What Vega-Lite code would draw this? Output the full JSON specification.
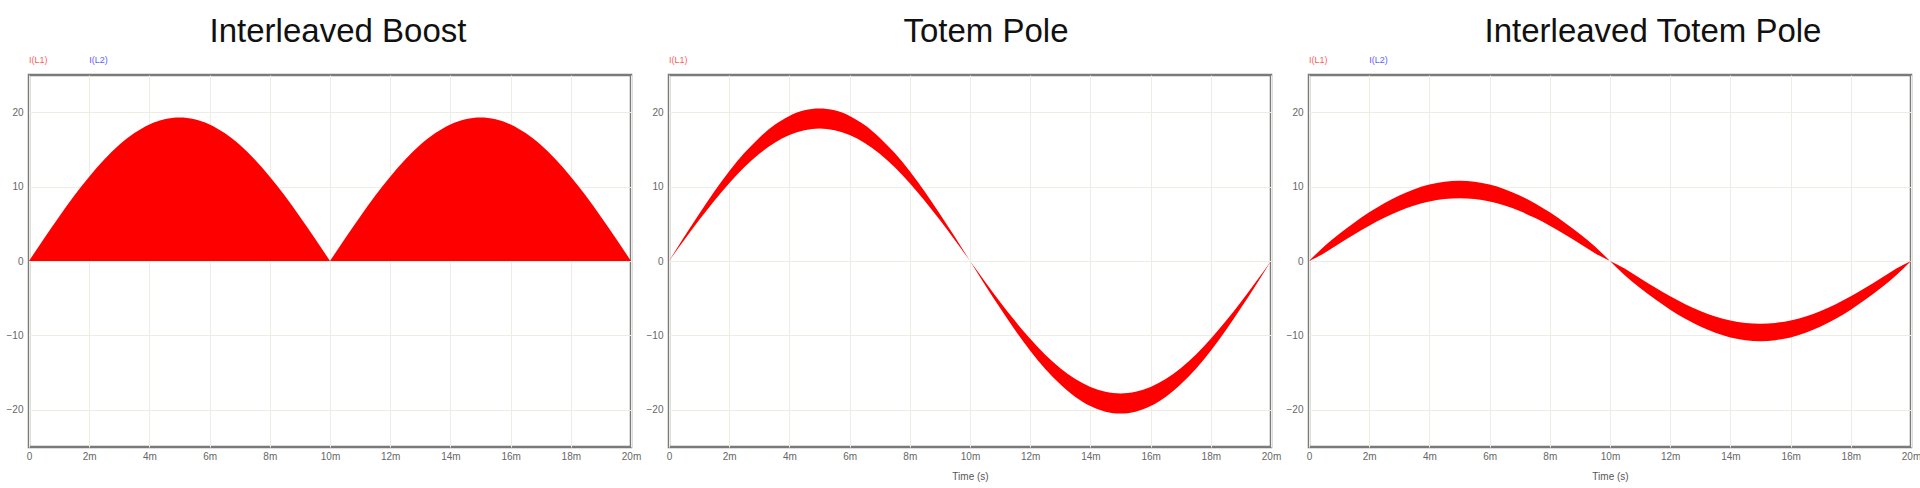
{
  "$schema": "https://vega.github.io/schema/vega-lite/v6.json",
  "background": "white",
  "padding": {"left": 3, "top": 14, "right": 0, "bottom": 0},
  "datasets": {
    "boost": [
      {"t": 0, "i": 0, "hump": 1}, {"t": 0.5, "i": 3.02, "hump": 1}, {"t": 1, "i": 5.96, "hump": 1}, {"t": 1.5, "i": 8.76, "hump": 1}, {"t": 2, "i": 11.34, "hump": 1}, {"t": 2.5, "i": 13.65, "hump": 1}, {"t": 3, "i": 15.61, "hump": 1}, {"t": 3.5, "i": 17.2, "hump": 1}, {"t": 4, "i": 18.36, "hump": 1}, {"t": 4.5, "i": 19.06, "hump": 1}, {"t": 5, "i": 19.3, "hump": 1}, {"t": 5.5, "i": 19.06, "hump": 1}, {"t": 6, "i": 18.36, "hump": 1}, {"t": 6.5, "i": 17.2, "hump": 1}, {"t": 7, "i": 15.61, "hump": 1}, {"t": 7.5, "i": 13.65, "hump": 1}, {"t": 8, "i": 11.34, "hump": 1}, {"t": 8.5, "i": 8.76, "hump": 1}, {"t": 9, "i": 5.96, "hump": 1}, {"t": 9.5, "i": 3.02, "hump": 1}, {"t": 10, "i": 0, "hump": 1},
      {"t": 10, "i": 0, "hump": 2}, {"t": 10.5, "i": 3.02, "hump": 2}, {"t": 11, "i": 5.96, "hump": 2}, {"t": 11.5, "i": 8.76, "hump": 2}, {"t": 12, "i": 11.34, "hump": 2}, {"t": 12.5, "i": 13.65, "hump": 2}, {"t": 13, "i": 15.61, "hump": 2}, {"t": 13.5, "i": 17.2, "hump": 2}, {"t": 14, "i": 18.36, "hump": 2}, {"t": 14.5, "i": 19.06, "hump": 2}, {"t": 15, "i": 19.3, "hump": 2}, {"t": 15.5, "i": 19.06, "hump": 2}, {"t": 16, "i": 18.36, "hump": 2}, {"t": 16.5, "i": 17.2, "hump": 2}, {"t": 17, "i": 15.61, "hump": 2}, {"t": 17.5, "i": 13.65, "hump": 2}, {"t": 18, "i": 11.34, "hump": 2}, {"t": 18.5, "i": 8.76, "hump": 2}, {"t": 19, "i": 5.96, "hump": 2}, {"t": 19.5, "i": 3.02, "hump": 2}, {"t": 20, "i": 0, "hump": 2}
    ],
    "totem": [
      {"t": 0, "hi": 0, "lo": 0}, {"t": 0.5, "hi": 3.21, "lo": 2.78}, {"t": 1, "hi": 6.33, "lo": 5.5}, {"t": 1.5, "hi": 9.31, "lo": 8.08}, {"t": 2, "hi": 12.05, "lo": 10.46}, {"t": 2.5, "hi": 14.5, "lo": 12.59}, {"t": 3, "hi": 16.58, "lo": 14.4}, {"t": 3.5, "hi": 18.27, "lo": 15.86}, {"t": 4, "hi": 19.5, "lo": 16.93}, {"t": 4.5, "hi": 20.25, "lo": 17.58}, {"t": 5, "hi": 20.5, "lo": 17.8}, {"t": 5.5, "hi": 20.25, "lo": 17.58}, {"t": 6, "hi": 19.5, "lo": 16.93}, {"t": 6.5, "hi": 18.27, "lo": 15.86}, {"t": 7, "hi": 16.58, "lo": 14.4}, {"t": 7.5, "hi": 14.5, "lo": 12.59}, {"t": 8, "hi": 12.05, "lo": 10.46}, {"t": 8.5, "hi": 9.31, "lo": 8.08}, {"t": 9, "hi": 6.33, "lo": 5.5}, {"t": 9.5, "hi": 3.21, "lo": 2.78}, {"t": 10, "hi": 0, "lo": 0},
      {"t": 10.5, "hi": -3.21, "lo": -2.78}, {"t": 11, "hi": -6.33, "lo": -5.5}, {"t": 11.5, "hi": -9.31, "lo": -8.08}, {"t": 12, "hi": -12.05, "lo": -10.46}, {"t": 12.5, "hi": -14.5, "lo": -12.59}, {"t": 13, "hi": -16.58, "lo": -14.4}, {"t": 13.5, "hi": -18.27, "lo": -15.86}, {"t": 14, "hi": -19.5, "lo": -16.93}, {"t": 14.5, "hi": -20.25, "lo": -17.58}, {"t": 15, "hi": -20.5, "lo": -17.8}, {"t": 15.5, "hi": -20.25, "lo": -17.58}, {"t": 16, "hi": -19.5, "lo": -16.93}, {"t": 16.5, "hi": -18.27, "lo": -15.86}, {"t": 17, "hi": -16.58, "lo": -14.4}, {"t": 17.5, "hi": -14.5, "lo": -12.59}, {"t": 18, "hi": -12.05, "lo": -10.46}, {"t": 18.5, "hi": -9.31, "lo": -8.08}, {"t": 19, "hi": -6.33, "lo": -5.5}, {"t": 19.5, "hi": -3.21, "lo": -2.78}, {"t": 20, "hi": 0, "lo": 0}
    ],
    "itp": [
      {"t": 0, "hi": 0, "lo": 0}, {"t": 0.5, "hi": 1.96, "lo": 1.04}, {"t": 1, "hi": 3.62, "lo": 2.32}, {"t": 1.5, "hi": 5.15, "lo": 3.57}, {"t": 2, "hi": 6.54, "lo": 4.75}, {"t": 2.5, "hi": 7.77, "lo": 5.8}, {"t": 3, "hi": 8.82, "lo": 6.71}, {"t": 3.5, "hi": 9.66, "lo": 7.45}, {"t": 4, "hi": 10.27, "lo": 7.99}, {"t": 4.5, "hi": 10.64, "lo": 8.32}, {"t": 5, "hi": 10.77, "lo": 8.43}, {"t": 5.5, "hi": 10.64, "lo": 8.32}, {"t": 6, "hi": 10.27, "lo": 7.99}, {"t": 6.5, "hi": 9.66, "lo": 7.45}, {"t": 7, "hi": 8.82, "lo": 6.71}, {"t": 7.5, "hi": 7.77, "lo": 5.8}, {"t": 8, "hi": 6.54, "lo": 4.75}, {"t": 8.5, "hi": 5.15, "lo": 3.57}, {"t": 9, "hi": 3.62, "lo": 2.32}, {"t": 9.5, "hi": 1.96, "lo": 1.04}, {"t": 10, "hi": 0, "lo": 0},
      {"t": 10.5, "hi": -1.96, "lo": -1.04}, {"t": 11, "hi": -3.62, "lo": -2.32}, {"t": 11.5, "hi": -5.15, "lo": -3.57}, {"t": 12, "hi": -6.54, "lo": -4.75}, {"t": 12.5, "hi": -7.77, "lo": -5.8}, {"t": 13, "hi": -8.82, "lo": -6.71}, {"t": 13.5, "hi": -9.66, "lo": -7.45}, {"t": 14, "hi": -10.27, "lo": -7.99}, {"t": 14.5, "hi": -10.64, "lo": -8.32}, {"t": 15, "hi": -10.77, "lo": -8.43}, {"t": 15.5, "hi": -10.64, "lo": -8.32}, {"t": 16, "hi": -10.27, "lo": -7.99}, {"t": 16.5, "hi": -9.66, "lo": -7.45}, {"t": 17, "hi": -8.82, "lo": -6.71}, {"t": 17.5, "hi": -7.77, "lo": -5.8}, {"t": 18, "hi": -6.54, "lo": -4.75}, {"t": 18.5, "hi": -5.15, "lo": -3.57}, {"t": 19, "hi": -3.62, "lo": -2.32}, {"t": 19.5, "hi": -1.96, "lo": -1.04}, {"t": 20, "hi": 0, "lo": 0}
    ],
    "legend2": [{"label": "I(L1)", "t": 0}, {"label": "I(L2)", "t": 2}],
    "legend1": [{"label": "I(L1)", "t": 0}]
  },
  "bounds": "flush",
  "spacing": 38,
  "hconcat": [
    {
      "width": 602, "height": 372,
      "title": {"text": "Interleaved Boost", "dx": 8},
      "layer": [
        {
          "data": {"name": "boost"},
          "mark": {"type": "area", "color": "#ff0000", "interpolate": "monotone", "opacity": 1},
          "encoding": {
            "x": {"field": "t", "type": "quantitative", "scale": {"domain": [0, 20], "nice": false},
                  "axis": {"values": [0, 2, 4, 6, 8, 10, 12, 14, 16, 18, 20], "labelExpr": "datum.value == 0 ? '0' : datum.value + 'm'", "title": null}},
            "y": {"field": "i", "type": "quantitative", "stack": null, "scale": {"domain": [-25, 25], "nice": false},
                  "axis": {"values": [-20, -10, 0, 10, 20], "title": null}},
            "detail": {"field": "hump"}
          }
        },
        {
          "data": {"name": "legend2"},
          "mark": {"type": "text", "align": "left", "baseline": "middle", "fontSize": 9, "font": "Liberation Sans"},
          "encoding": {
            "x": {"field": "t", "type": "quantitative"},
            "y": {"datum": 27},
            "text": {"field": "label"},
            "color": {"field": "label", "type": "nominal", "scale": {"domain": ["I(L1)", "I(L2)"], "range": ["#ff5c5c", "#6060ff"]}, "legend": null}
          }
        }
      ]
    },
    {
      "width": 602, "height": 372,
      "title": {"text": "Totem Pole", "dx": 16},
      "layer": [
        {
          "data": {"name": "totem"},
          "mark": {"type": "area", "color": "#ff0000", "interpolate": "monotone", "opacity": 1},
          "encoding": {
            "x": {"field": "t", "type": "quantitative", "scale": {"domain": [0, 20], "nice": false},
                  "axis": {"values": [0, 2, 4, 6, 8, 10, 12, 14, 16, 18, 20], "labelExpr": "datum.value == 0 ? '0' : datum.value + 'm'", "title": "Time (s)"}},
            "y": {"field": "hi", "type": "quantitative", "stack": null, "scale": {"domain": [-25, 25], "nice": false},
                  "axis": {"values": [-20, -10, 0, 10, 20], "title": null}},
            "y2": {"field": "lo"}
          }
        },
        {
          "data": {"name": "legend1"},
          "mark": {"type": "text", "align": "left", "baseline": "middle", "fontSize": 9, "font": "Liberation Sans"},
          "encoding": {
            "x": {"field": "t", "type": "quantitative"},
            "y": {"datum": 27},
            "text": {"field": "label"},
            "color": {"field": "label", "type": "nominal", "scale": {"domain": ["I(L1)", "I(L2)"], "range": ["#ff5c5c", "#6060ff"]}, "legend": null}
          }
        }
      ]
    },
    {
      "width": 602, "height": 372,
      "title": {"text": "Interleaved Totem Pole", "dx": 43},
      "layer": [
        {
          "data": {"name": "itp"},
          "mark": {"type": "area", "color": "#ff0000", "interpolate": "monotone", "opacity": 1},
          "encoding": {
            "x": {"field": "t", "type": "quantitative", "scale": {"domain": [0, 20], "nice": false},
                  "axis": {"values": [0, 2, 4, 6, 8, 10, 12, 14, 16, 18, 20], "labelExpr": "datum.value == 0 ? '0' : datum.value + 'm'", "title": "Time (s)"}},
            "y": {"field": "hi", "type": "quantitative", "stack": null, "scale": {"domain": [-25, 25], "nice": false},
                  "axis": {"values": [-20, -10, 0, 10, 20], "title": null}},
            "y2": {"field": "lo"}
          }
        },
        {
          "data": {"name": "legend2"},
          "mark": {"type": "text", "align": "left", "baseline": "middle", "fontSize": 9, "font": "Liberation Sans"},
          "encoding": {
            "x": {"field": "t", "type": "quantitative"},
            "y": {"datum": 27},
            "text": {"field": "label"},
            "color": {"field": "label", "type": "nominal", "scale": {"domain": ["I(L1)", "I(L2)"], "range": ["#ff5c5c", "#6060ff"]}, "legend": null}
          }
        }
      ]
    }
  ],
  "config": {
    "font": "Liberation Sans",
    "view": {"stroke": "#7a7a7a", "strokeWidth": 2.5},
    "title": {"font": "Liberation Sans", "fontSize": 33, "fontWeight": "normal", "color": "#111111", "anchor": "middle", "frame": "group", "offset": 7},
    "axis": {
      "labelFont": "Liberation Sans", "labelFontSize": 10, "labelColor": "#666666",
      "ticks": false, "tickSize": 0, "domain": false,
      "grid": true, "gridColor": "#ededE4", "gridWidth": 1,
      "titleFont": "Liberation Sans", "titleFontSize": 10, "titleFontWeight": "normal", "titleColor": "#555555"
    },
    "axisX": {"labelPadding": 4, "titlePadding": 10, "labelFlush": false},
    "axisY": {"labelPadding": 6, "minExtent": 24, "maxExtent": 24}
  }
}
